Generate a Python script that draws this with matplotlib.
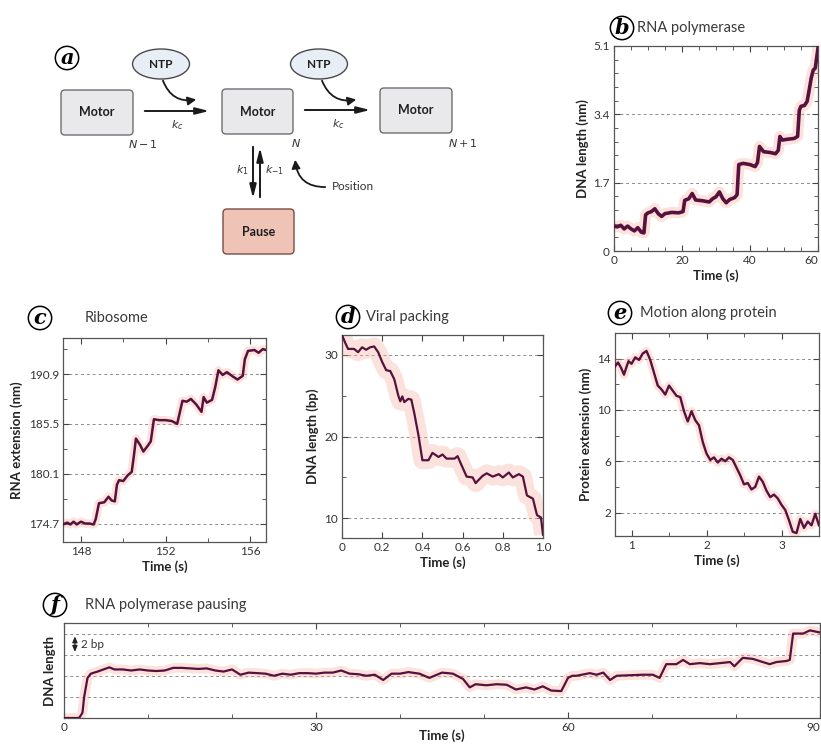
import numpy as np
import matplotlib.pyplot as plt
from matplotlib.patches import FancyBboxPatch, Ellipse, FancyArrowPatch
from matplotlib.ticker import MultipleLocator

W, H = 821, 744
plt.rcParams['font.family'] = ['Lato', 'DejaVu Sans']

DARK = '#58103c'
PINK = '#f4ad9c'
GRID = '#8c8c8c'
TXT = '#333333'

# (b) RNA polymerase
b_time = [0, 1, 2, 3, 4, 5, 6, 7, 8, 8.8, 9.3, 10, 11, 12, 13, 14, 15, 17, 19, 20.3, 20.8,
          22, 23, 24, 26, 28, 29, 30, 31, 32, 33, 34, 35.5, 36.2, 36.7, 38, 40, 41.5, 42.2,
          42.8, 44, 46, 47.5, 48.3, 48.8, 49.5, 51, 53, 54, 54.5, 55, 56, 56.8, 57.5, 58,
          58.6, 59.2, 59.6, 60]
b_length = [0.62, 0.6, 0.64, 0.55, 0.62, 0.55, 0.5, 0.58, 0.47, 0.45, 0.9, 0.95, 0.98, 1.05,
            0.93, 0.86, 0.93, 0.96, 0.95, 0.98, 1.26, 1.3, 1.43, 1.27, 1.25, 1.22, 1.3, 1.35,
            1.47, 1.3, 1.2, 1.28, 1.33, 1.4, 2.15, 2.18, 2.15, 2.1, 2.2, 2.6, 2.47, 2.45, 2.42,
            2.5, 2.85, 2.76, 2.78, 2.8, 2.85, 3.5, 3.6, 3.62, 3.72, 4.05, 4.3, 4.5, 4.55, 4.8,
            5.05]
b_yticks = [0, 1.7, 3.4, 5.1]
b_ylabels = ['0', '1.7', '3.4', '5.1']
b_xticks = [0, 20, 40, 60]

# (c) Ribosome
c_time = [147.15, 147.35, 147.5, 147.65, 147.8, 148.0, 148.2, 148.4, 148.6, 148.7, 148.85,
          149.1, 149.3, 149.45, 149.6, 149.7, 149.8, 150.0, 150.2, 150.4, 150.5, 150.6, 150.8,
          150.95, 151.15, 151.3, 151.45, 151.7, 152.0, 152.3, 152.55, 152.65, 152.8, 153.0,
          153.2, 153.45, 153.7, 153.8, 153.95, 154.2, 154.35, 154.5, 154.7, 154.9, 155.2,
          155.4, 155.65, 155.75, 155.9, 156.2, 156.4, 156.6, 156.75]
c_extension = [174.6, 174.8, 174.6, 174.9, 174.6, 174.9, 174.7, 174.7, 174.6, 175.2, 176.9,
               177.0, 177.6, 177.2, 177.1, 178.9, 179.4, 179.3, 179.9, 180.3, 182.0, 183.9,
               183.2, 182.5, 183.1, 183.6, 186.0, 185.9, 185.9, 185.8, 185.5, 186.5, 188.0,
               187.9, 188.2, 187.6, 186.8, 188.4, 187.8, 188.1, 189.5, 191.3, 190.8, 191.1,
               190.6, 190.3, 190.7, 192.5, 193.4, 193.5, 193.2, 193.6, 193.5]
c_yticks = [174.7, 180.1, 185.5, 190.9]
c_xticks = [148, 152, 156]

# (d) Viral packing
d_time = [0, 0.015, 0.03, 0.06, 0.08, 0.1, 0.12, 0.14, 0.16, 0.18, 0.2, 0.22, 0.24, 0.26,
          0.28, 0.29, 0.30, 0.31, 0.33, 0.345, 0.36, 0.38, 0.40, 0.43, 0.45, 0.48, 0.5, 0.52,
          0.56, 0.575, 0.6, 0.62, 0.65, 0.665, 0.68, 0.7, 0.72, 0.75, 0.78, 0.8, 0.83, 0.85,
          0.88, 0.9, 0.92, 0.95, 0.97, 0.99, 1.0]
d_length = [32.4, 31.5, 30.7, 30.7, 30.3, 30.9, 30.6, 30.9, 31.0, 30.3, 29.1, 28.1, 28.0,
            27.0, 25.0, 24.3, 24.9, 24.2, 24.6, 24.5, 22.8, 20.2, 17.1, 17.1, 18.0, 17.5,
            17.8, 17.3, 17.3, 17.6, 16.2, 15.1, 15.0, 14.3, 14.7, 15.2, 15.5, 15.1, 15.4,
            15.0, 15.6, 15.0, 15.4, 15.1, 12.8, 12.4, 10.4, 10.1, 8.0]
d_yticks = [10, 20, 30]
d_xticks = [0, 0.2, 0.4, 0.6, 0.8, 1.0]
d_xlabels = ['0', '0.2', '0.4', '0.6', '0.8', '1.0']

# (e) Motion along protein
e_time = [0.78, 0.82, 0.86, 0.9, 0.93, 0.96, 1.0, 1.05, 1.1, 1.15, 1.2, 1.25, 1.3, 1.35, 1.4,
          1.45, 1.5, 1.55, 1.6, 1.65, 1.7, 1.75, 1.8, 1.85, 1.9, 1.95, 2.0, 2.05, 2.1, 2.15,
          2.2, 2.25, 2.3, 2.35, 2.4, 2.45, 2.5, 2.55, 2.6, 2.65, 2.7, 2.75, 2.8, 2.85, 2.9,
          2.95, 3.0, 3.05, 3.1, 3.15, 3.2, 3.25, 3.3, 3.35, 3.4, 3.45, 3.5]
e_extension = [13.4, 13.7, 13.3, 12.75, 13.3, 13.8, 13.6, 14.1, 13.9, 14.4, 14.6, 13.9, 12.9,
               11.9, 11.6, 11.2, 11.9, 11.5, 11.1, 11.0, 9.9, 9.1, 9.9, 9.2, 8.8, 7.5, 6.6,
               6.1, 6.3, 5.9, 6.2, 6.0, 6.3, 6.1, 5.5, 4.9, 4.2, 4.3, 3.8, 4.0, 4.8, 4.4, 3.7,
               3.2, 3.4, 3.1, 2.6, 2.2, 1.4, 0.5, 0.4, 1.5, 0.8, 1.3, 1.0, 1.9, 1.0]
e_yticks = [2, 6, 10, 14]
e_xticks = [1, 2, 3]

# (f) RNA polymerase pausing
f_time = [0, 1.8, 2.2, 2.4, 2.8, 3.2, 4, 5.4, 6, 7, 8, 9, 10, 11, 12, 13, 14, 15, 16, 17, 18,
          19, 20, 21, 22, 23, 24, 25, 26, 27, 28, 29, 30, 31, 32, 33, 34, 35, 36, 37, 38, 39,
          40, 41, 42.3, 43.5, 45, 46.3, 47.5, 48.3, 49, 50.3, 51.5, 52.7, 53.8, 55, 56, 57,
          58, 59.2, 60, 60.5, 61, 62.6, 63.4, 64.2, 65, 65.8, 67.3, 68.9, 70.1, 70.9, 71.7,
          72.9, 73.7, 74.5, 75.7, 76.9, 78.1, 79.3, 79.8, 80.8, 82.0, 83.2, 84.0, 84.8, 86.0,
          86.4, 86.8, 88.0, 88.8, 90]
f_length = [0, 0, 0.5, 2.0, 3.8, 4.2, 4.4, 4.8, 4.6, 4.6, 4.5, 4.6, 4.5, 4.45, 4.5, 4.75,
            4.75, 4.7, 4.65, 4.7, 4.5, 4.4, 4.6, 4.1, 4.3, 4.25, 4.2, 4.0, 4.2, 4.1, 4.25,
            4.25, 4.2, 4.3, 4.3, 4.5, 4.2, 4.15, 4.0, 4.1, 3.6, 4.2, 4.2, 4.35, 4.2, 3.8, 4.3,
            4.2, 3.7, 2.9, 3.2, 3.1, 3.2, 3.15, 2.7, 2.9, 2.7, 3.0, 2.6, 2.55, 3.8, 4.0, 4.0,
            4.25, 4.1, 4.3, 3.6, 4.0, 4.05, 4.1, 4.1, 3.8, 5.1, 5.1, 5.5, 5.1, 5.2, 5.1, 5.2,
            5.3, 4.9, 5.7, 5.6, 5.3, 5.1, 5.3, 5.4, 5.5, 8.0, 8.0, 8.3, 8.1]
f_grid = [2, 4, 6, 8]
f_xticks = [0, 30, 60, 90]


def px_axes(fig, left, top, right, bottom):
    """axes placed by pixel box (top-left origin)"""
    return fig.add_axes([left / W, 1 - bottom / H, (right - left) / W, (bottom - top) / H])


def draw_trace(ax, t, y, lw, noise_lw, grid_y):
    # light band stands in for the raw noisy signal, dark line is the filtered trace
    ax.plot(t, y, color=PINK, lw=noise_lw, alpha=0.35, solid_joinstyle='round',
            solid_capstyle='butt', zorder=2)
    ax.plot(t, y, color=DARK, lw=lw, solid_joinstyle='round', zorder=3)
    for g in grid_y:
        ax.axhline(g, color=GRID, ls=(0, (3, 3)), lw=0.7, zorder=1)
    for sp in ax.spines.values():
        sp.set_color('#555555')
        sp.set_linewidth(0.9)
    ax.tick_params(which='both', direction='in', top=True, right=True, color='#444444',
                   labelcolor=TXT, labelsize=8.5, pad=3)
    ax.tick_params(which='major', length=4)
    ax.tick_params(which='minor', length=3)


def pull_last_label_inside(ax):
    """last x tick label sits on the figure edge; right-align it so it stays visible"""
    labels = ax.get_xticklabels()
    labels[-1].set_horizontalalignment('right')


def panel_tag(ax0, x, y, letter, title, gap):
    ax0.text(x, y, letter, ha='center', va='center', fontsize=15, fontstyle='italic',
             fontweight='bold', family='DejaVu Serif',
             bbox=dict(boxstyle='circle,pad=0.08', fc='white', ec='black', lw=1.1))
    if title:
        ax0.text(x + gap, y, title, ha='left', va='center', fontsize=10.5, color='#3a3a3a')


fig = plt.figure(figsize=(W / 100, H / 100), dpi=100)

# ---- overlay axis in pixel coordinates for diagram and labels ----
ax0 = fig.add_axes([0, 0, 1, 1])
ax0.set_xlim(0, W)
ax0.set_ylim(H, 0)
ax0.axis('off')

box_kw = dict(boxstyle='round,pad=0,rounding_size=4', lw=1.0)
for (x0, y0, x1, y1) in [(61, 90, 133, 135), (222, 89, 293, 134), (380, 88, 452, 133)]:
    ax0.add_patch(FancyBboxPatch((x0, y0), x1 - x0, y1 - y0, fc='#e9e9ec', ec='#6e6e6e', **box_kw))
    ax0.text((x0 + x1) / 2, (y0 + y1) / 2, 'Motor', ha='center', va='center', fontsize=9,
             fontweight='bold', color='#1e1e1e')
ax0.add_patch(FancyBboxPatch((223, 209), 71, 45, fc='#efc3b6', ec='#7a4c44', **box_kw))
ax0.text(258.5, 231.5, 'Pause', ha='center', va='center', fontsize=9, fontweight='bold',
         color='#1e1e1e')

for cx in (161, 319):
    ax0.add_patch(Ellipse((cx, 64), 57, 30, fc='#e8eef6', ec='#4a4a4a', lw=1.0))
    ax0.text(cx, 64, 'NTP', ha='center', va='center', fontsize=8.5, fontweight='bold',
             color='#1e1e1e')

arrow_kw = dict(arrowstyle='-|>,head_length=0.8,head_width=0.2', color='#1a1a1a', lw=1.4)
ax0.annotate('', xy=(212, 111), xytext=(142, 111), arrowprops=arrow_kw)
ax0.annotate('', xy=(373, 110), xytext=(302, 110), arrowprops=arrow_kw)
ax0.annotate('', xy=(253, 201), xytext=(253, 144), arrowprops=arrow_kw)
ax0.annotate('', xy=(260, 145), xytext=(260, 200), arrowprops=arrow_kw)

for start, end, rad in [((162, 78), (199, 99), 0.45), ((321, 78), (359, 99), 0.45),
                        ((328, 187), (295, 157), -0.5)]:
    ax0.add_patch(FancyArrowPatch(start, end, connectionstyle=f'arc3,rad={rad}',
                                  arrowstyle='-|>,head_length=5,head_width=2.5',
                                  color='#1a1a1a', lw=1.3))

ax0.text(177, 125, r'$k_c$', ha='center', va='center', fontsize=8, color=TXT)
ax0.text(338, 124, r'$k_c$', ha='center', va='center', fontsize=8, color=TXT)
ax0.text(242, 170, r'$k_1$', ha='center', va='center', fontsize=8, color=TXT)
ax0.text(275, 170, r'$k_{-1}$', ha='center', va='center', fontsize=8, color=TXT)
ax0.text(143, 144, r'$N-1$', ha='center', va='center', fontsize=8, color=TXT)
ax0.text(296, 143, r'$N$', ha='center', va='center', fontsize=8, color=TXT)
ax0.text(463, 143, r'$N+1$', ha='center', va='center', fontsize=8, color=TXT)
ax0.text(332, 187, 'Position', ha='left', va='center', fontsize=8.5, color=TXT)

panel_tag(ax0, 67, 58, 'a', None, 0)
panel_tag(ax0, 622, 28, 'b', 'RNA polymerase', 15)
panel_tag(ax0, 40, 318, 'c', 'Ribosome', 45)
panel_tag(ax0, 348, 317, 'd', 'Viral packing', 18)
panel_tag(ax0, 620, 313, 'e', 'Motion along protein', 20)
panel_tag(ax0, 55, 605, 'f', 'RNA polymerase pausing', 30)

label_kw = dict(fontsize=9.5, fontweight='bold', color='#222222')

# ---- (b) ----
axb = px_axes(fig, 614, 46, 818, 251)
draw_trace(axb, b_time, b_length, 2.6, 8, b_yticks[1:-1])
axb.set_xlim(0, 60)
axb.set_ylim(0, 5.1)
axb.set_xticks(b_xticks)
axb.set_yticks(b_yticks)
axb.set_yticklabels(b_ylabels)
axb.xaxis.set_minor_locator(MultipleLocator(5))
axb.yaxis.set_minor_locator(MultipleLocator(0.34))
axb.set_xlabel('Time (s)', labelpad=2, **label_kw)
axb.set_ylabel('DNA length (nm)', labelpad=3, **label_kw)
pull_last_label_inside(axb)

# ---- (c) ----
axc = px_axes(fig, 63, 338, 266, 542)
draw_trace(axc, c_time, c_extension, 1.8, 6, c_yticks)
axc.set_xlim(147.15, 156.75)
axc.set_ylim(172.7, 194.8)
axc.set_xticks(c_xticks)
axc.set_yticks(c_yticks)
axc.xaxis.set_minor_locator(MultipleLocator(2))
axc.set_yticks([177.4, 182.8, 188.2, 193.6], minor=True)
axc.set_xlabel('Time (s)', labelpad=2, **label_kw)
axc.set_ylabel('RNA extension (nm)', labelpad=4, **label_kw)

# ---- (d) ----
axd = px_axes(fig, 342, 335, 543, 538)
draw_trace(axd, d_time, d_length, 1.6, 13, d_yticks)
axd.set_xlim(0, 1.0)
axd.set_ylim(7.6, 32.4)
axd.set_xticks(d_xticks)
axd.set_xticklabels(d_xlabels)
axd.set_yticks(d_yticks)
axd.yaxis.set_minor_locator(MultipleLocator(5))
axd.set_xlabel('Time (s)', labelpad=2, **label_kw)
axd.set_ylabel('DNA length (bp)', labelpad=4, **label_kw)

# ---- (e) ----
axe = px_axes(fig, 615, 333, 819, 536)
draw_trace(axe, e_time, e_extension, 1.7, 6, e_yticks)
axe.set_xlim(0.78, 3.5)
axe.set_ylim(0.17, 16.0)
axe.set_xticks(e_xticks)
axe.set_yticks(e_yticks)
axe.xaxis.set_minor_locator(MultipleLocator(0.5))
axe.set_yticks([4, 8, 12], minor=True)
axe.set_xlabel('Time (s)', labelpad=2, **label_kw)
axe.set_ylabel('Protein extension (nm)', labelpad=4, **label_kw)

# ---- (f) ----
axf = px_axes(fig, 64, 623, 820, 718)
draw_trace(axf, f_time, f_length, 1.6, 7, f_grid)
axf.set_xlim(0, 90)
axf.set_ylim(0, 9)
axf.set_xticks(f_xticks)
axf.xaxis.set_minor_locator(MultipleLocator(10))
axf.set_yticks([])
axf.set_xlabel('Time (s)', **label_kw)
axf.xaxis.set_label_coords(0.5, -0.12)
axf.set_ylabel('DNA length', labelpad=6, **label_kw)
pull_last_label_inside(axf)
axf.annotate('', xy=(1.3, 8.0), xytext=(1.3, 6.0),
             arrowprops=dict(arrowstyle='<|-|>,head_length=0.35,head_width=0.15',
                             color='#222222', lw=0.9))
axf.text(2.0, 7.0, '2 bp', ha='left', va='center', fontsize=8.5, color=TXT)

fig.savefig('out.png', dpi=100)
plt.close(fig)
